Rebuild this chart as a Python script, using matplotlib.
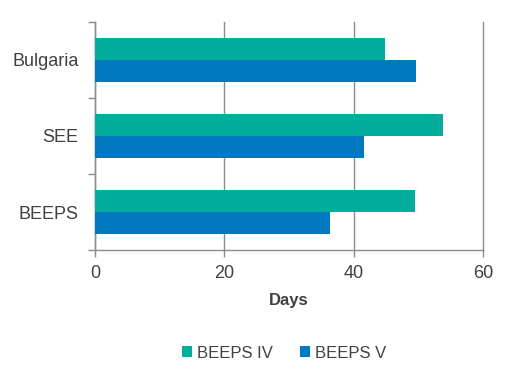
import matplotlib.pyplot as plt
import numpy as np

plt.rcParams['font.family'] = ['Liberation Sans', 'DejaVu Sans']

categories = ["BEEPS", "SEE", "Bulgaria"]
beeps_iv = [49.5, 53.8, 44.8]
beeps_v = [36.3, 41.6, 49.6]

teal = "#00AE9B"
blue = "#0079C1"
grey = "#8C8C8C"
text_col = "#404040"

fig = plt.figure(figsize=(5.17, 3.83), dpi=100)
ax = fig.add_axes([0.184, 0.347, 0.750, 0.596])

idx = np.arange(len(categories))
h = 0.29
ax.barh(idx + h / 2, beeps_iv, h, color=teal, label="BEEPS IV", zorder=3)
ax.barh(idx - h / 2, beeps_v, h, color=blue, label="BEEPS V", zorder=3)

ax.set_xlim(0, 60)
ax.set_ylim(-0.5, 2.5)
ax.set_xticks([0, 20, 40, 60])
ax.set_yticks(idx)
ax.set_yticklabels(categories)
ax.set_yticks(np.arange(-0.5, 3.0, 1.0), minor=True)
ax.tick_params(axis='y', which='major', length=0, pad=12, labelsize=13, labelcolor=text_col)
ax.tick_params(axis='y', which='minor', length=5, color=grey, width=1)
ax.tick_params(axis='x', length=5, color=grey, width=1, pad=6, labelsize=13, labelcolor=text_col)

ax.grid(axis='x', color=grey, linewidth=1, zorder=0)
for gl in ax.get_xgridlines():
    gl.set_clip_on(False)
for s in ['top', 'right']:
    ax.spines[s].set_visible(False)
for s in ['left', 'bottom']:
    ax.spines[s].set_color(grey)
    ax.spines[s].set_linewidth(1)

ax.set_xlabel("Days", fontsize=12, fontweight='bold', color=text_col, labelpad=8)

fig.legend(loc='center', bbox_to_anchor=(0.55, 0.078), ncol=2, frameon=False,
           fontsize=12, handlelength=0.6, handleheight=0.6, handletextpad=0.3,
           columnspacing=1.6, labelcolor=text_col)

fig.savefig("out.png", dpi=100)
